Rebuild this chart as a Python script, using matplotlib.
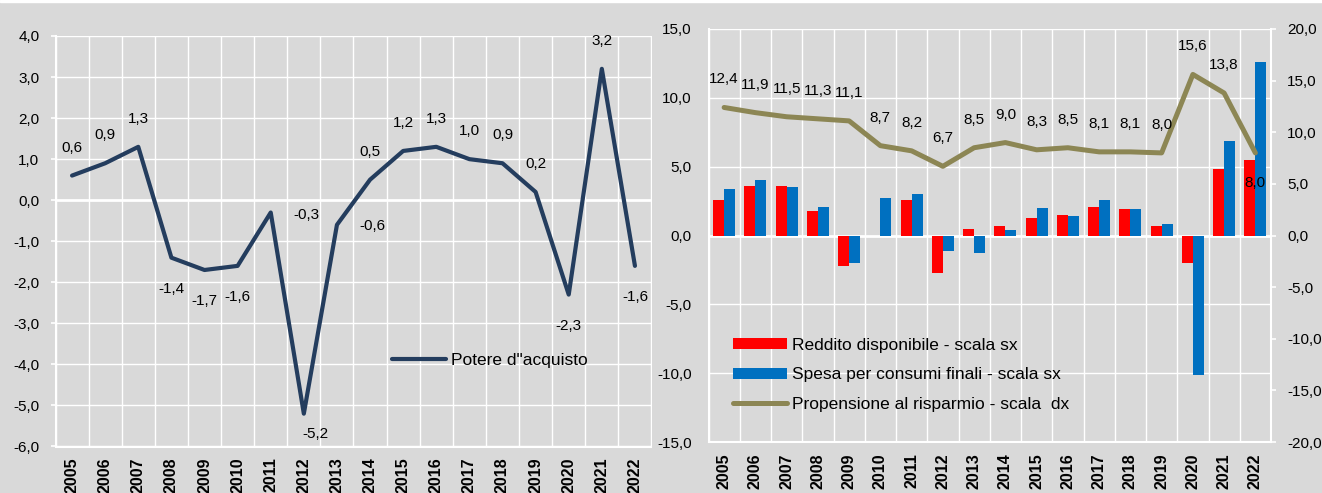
import numpy as np
import matplotlib
matplotlib.use("Agg")
import matplotlib.pyplot as plt
from matplotlib.ticker import FuncFormatter
from matplotlib.patches import Rectangle

# data
years = [str(y) for y in range(2005, 2023)]
potere = [0.6, 0.9, 1.3, -1.4, -1.7, -1.6, -0.3, -5.2, -0.6, 0.5,
          1.2, 1.3, 1.0, 0.9, 0.2, -2.3, 3.2, -1.6]
reddito = [2.6, 3.6, 3.6, 1.8, -2.2, 0.0, 2.6, -2.7, 0.5, 0.7,
           1.3, 1.5, 2.1, 1.9, 0.7, -2.0, 4.8, 5.5]
spesa = [3.4, 4.0, 3.5, 2.1, -2.0, 2.7, 3.0, -1.1, -1.3, 0.4,
         2.0, 1.4, 2.6, 1.9, 0.8, -10.1, 6.9, 12.6]
propensione = [12.4, 11.9, 11.5, 11.3, 11.1, 8.7, 8.2, 6.7, 8.5, 9.0,
               8.3, 8.5, 8.1, 8.1, 8.0, 15.6, 13.8, 8.0]

BG = '#d9d9d9'
NAVY = '#243d5e'
OLIVE = '#8c8654'
RED = '#ff0000'
BLUE = '#0070c0'

plt.rcParams['font.family'] = ['Liberation Sans', 'DejaVu Sans']
plt.rcParams['font.size'] = 11

W, H = 1322, 493
LABEL_FS = 11      # tick and data labels
LEGEND_FS = 12.5


def px_box(x0, x1, ytop, ybot):
    return [x0 / W, 1 - ybot / H, (x1 - x0) / W, (ybot - ytop) / H]


def comma(v, pos=None):
    if abs(v) < 1e-9:
        v = 0.0
    return ('%.1f' % v).replace('.', ',')


def style_axes(ax, ymin, ymax, ystep, left_ticks=True):
    ax.set_facecolor(BG)
    ax.set_xlim(-0.5, len(years) - 0.5)
    ax.set_ylim(ymin, ymax)
    ax.set_yticks(np.arange(ymin, ymax + 0.01, ystep))
    ax.yaxis.set_major_formatter(FuncFormatter(comma))
    ax.set_xticks(np.arange(len(years)))
    ax.set_xticklabels(years, rotation=90, fontweight='bold', fontsize=11.5)
    ax.set_xticks(np.arange(-0.5, len(years), 1), minor=True)
    ax.tick_params(axis='x', which='both', length=0, pad=8)
    if left_ticks:
        ax.tick_params(axis='y', length=3.6, width=1.2, color='white', pad=8,
                       labelsize=LABEL_FS)
    else:
        ax.tick_params(axis='y', length=0, pad=12, labelsize=LABEL_FS)
    ax.grid(which='minor', axis='x', color='white', lw=1)
    ax.grid(which='major', axis='y', color='white', lw=1)
    ax.set_axisbelow(True)
    for s in ('top', 'right'):
        ax.spines[s].set_visible(False)
    for s in ('left', 'bottom'):
        ax.spines[s].set_color('white')
        ax.spines[s].set_linewidth(1.5)
    ax.axhline(0, color='white', lw=2, zorder=0.5)


fig = plt.figure(figsize=(W / 100, H / 100), dpi=100, facecolor=BG)
fig.patches.append(Rectangle((0, 1 - 2 / H), 1, 2 / H, transform=fig.transFigure,
                             color='white', zorder=0))

x = np.arange(len(years))

###############################################################################
# left chart: potere d'acquisto
ax1 = fig.add_axes(px_box(55.5, 651.5, 36, 446.5))
style_axes(ax1, -6, 4, 1)
ax1.plot(x, potere, color=NAVY, lw=3, label='Potere d"acquisto',
         solid_joinstyle='round', solid_capstyle='round', zorder=3)

special = {6: (36, -2), 7: (12, -20), 8: (35, -1)}
for i, v in enumerate(potere):
    dx, dy = special.get(i, (0, 28 if v >= 0 else -31))
    ax1.annotate(comma(v), (i, v), xytext=(dx, dy), textcoords='offset pixels',
                 ha='center', va='center', fontsize=LABEL_FS)

ax1.legend(loc='center left', bbox_to_anchor=((392 - 55.5) / 596, (446.5 - 360) / 410.5),
           frameon=False, fontsize=LEGEND_FS, handlelength=3.1, handletextpad=0.3,
           borderpad=0, borderaxespad=0)

###############################################################################
# right chart: reddito, spesa, propensione
ax2 = fig.add_axes(px_box(708.5, 1271, 29, 442))
style_axes(ax2, -15, 15, 5, left_ticks=False)
bw = 0.35
b1 = ax2.bar(x - bw / 2, reddito, width=bw, color=RED, zorder=2,
             label='Reddito disponibile - scala sx')
b2 = ax2.bar(x + bw / 2, spesa, width=bw, color=BLUE, zorder=2,
             label='Spesa per consumi finali - scala sx')

ax3 = ax2.twinx()
ax3.set_ylim(-20, 20)
ax3.set_yticks(np.arange(-20, 20.01, 5))
ax3.yaxis.set_major_formatter(FuncFormatter(comma))
ax3.tick_params(axis='y', length=3.6, width=1.2, color='white', pad=8,
                labelsize=LABEL_FS)
for s in ('top', 'left', 'bottom'):
    ax3.spines[s].set_visible(False)
ax3.spines['right'].set_color('white')
ax3.spines['right'].set_linewidth(1.5)
l1, = ax3.plot(x, propensione, color=OLIVE, lw=3.6, solid_joinstyle='round',
               solid_capstyle='round', label='Propensione al risparmio - scala  dx')
for i, v in enumerate(propensione):
    dy = 28 if i < len(propensione) - 1 else -30
    ax3.annotate(comma(v), (i, v), xytext=(0, dy), textcoords='offset pixels',
                 ha='center', va='center', fontsize=LABEL_FS)

ax3.legend([b1, b2, l1], [b1.get_label(), b2.get_label(), l1.get_label()],
           loc='center left', bbox_to_anchor=((733 - 708.5) / 562.5, (442 - 375) / 413),
           frameon=False, fontsize=LEGEND_FS, handlelength=3.1, handleheight=0.63,
           handletextpad=0.3, labelspacing=0.85, borderpad=0, borderaxespad=0)

fig.savefig('out.png', dpi=100, facecolor=BG)
